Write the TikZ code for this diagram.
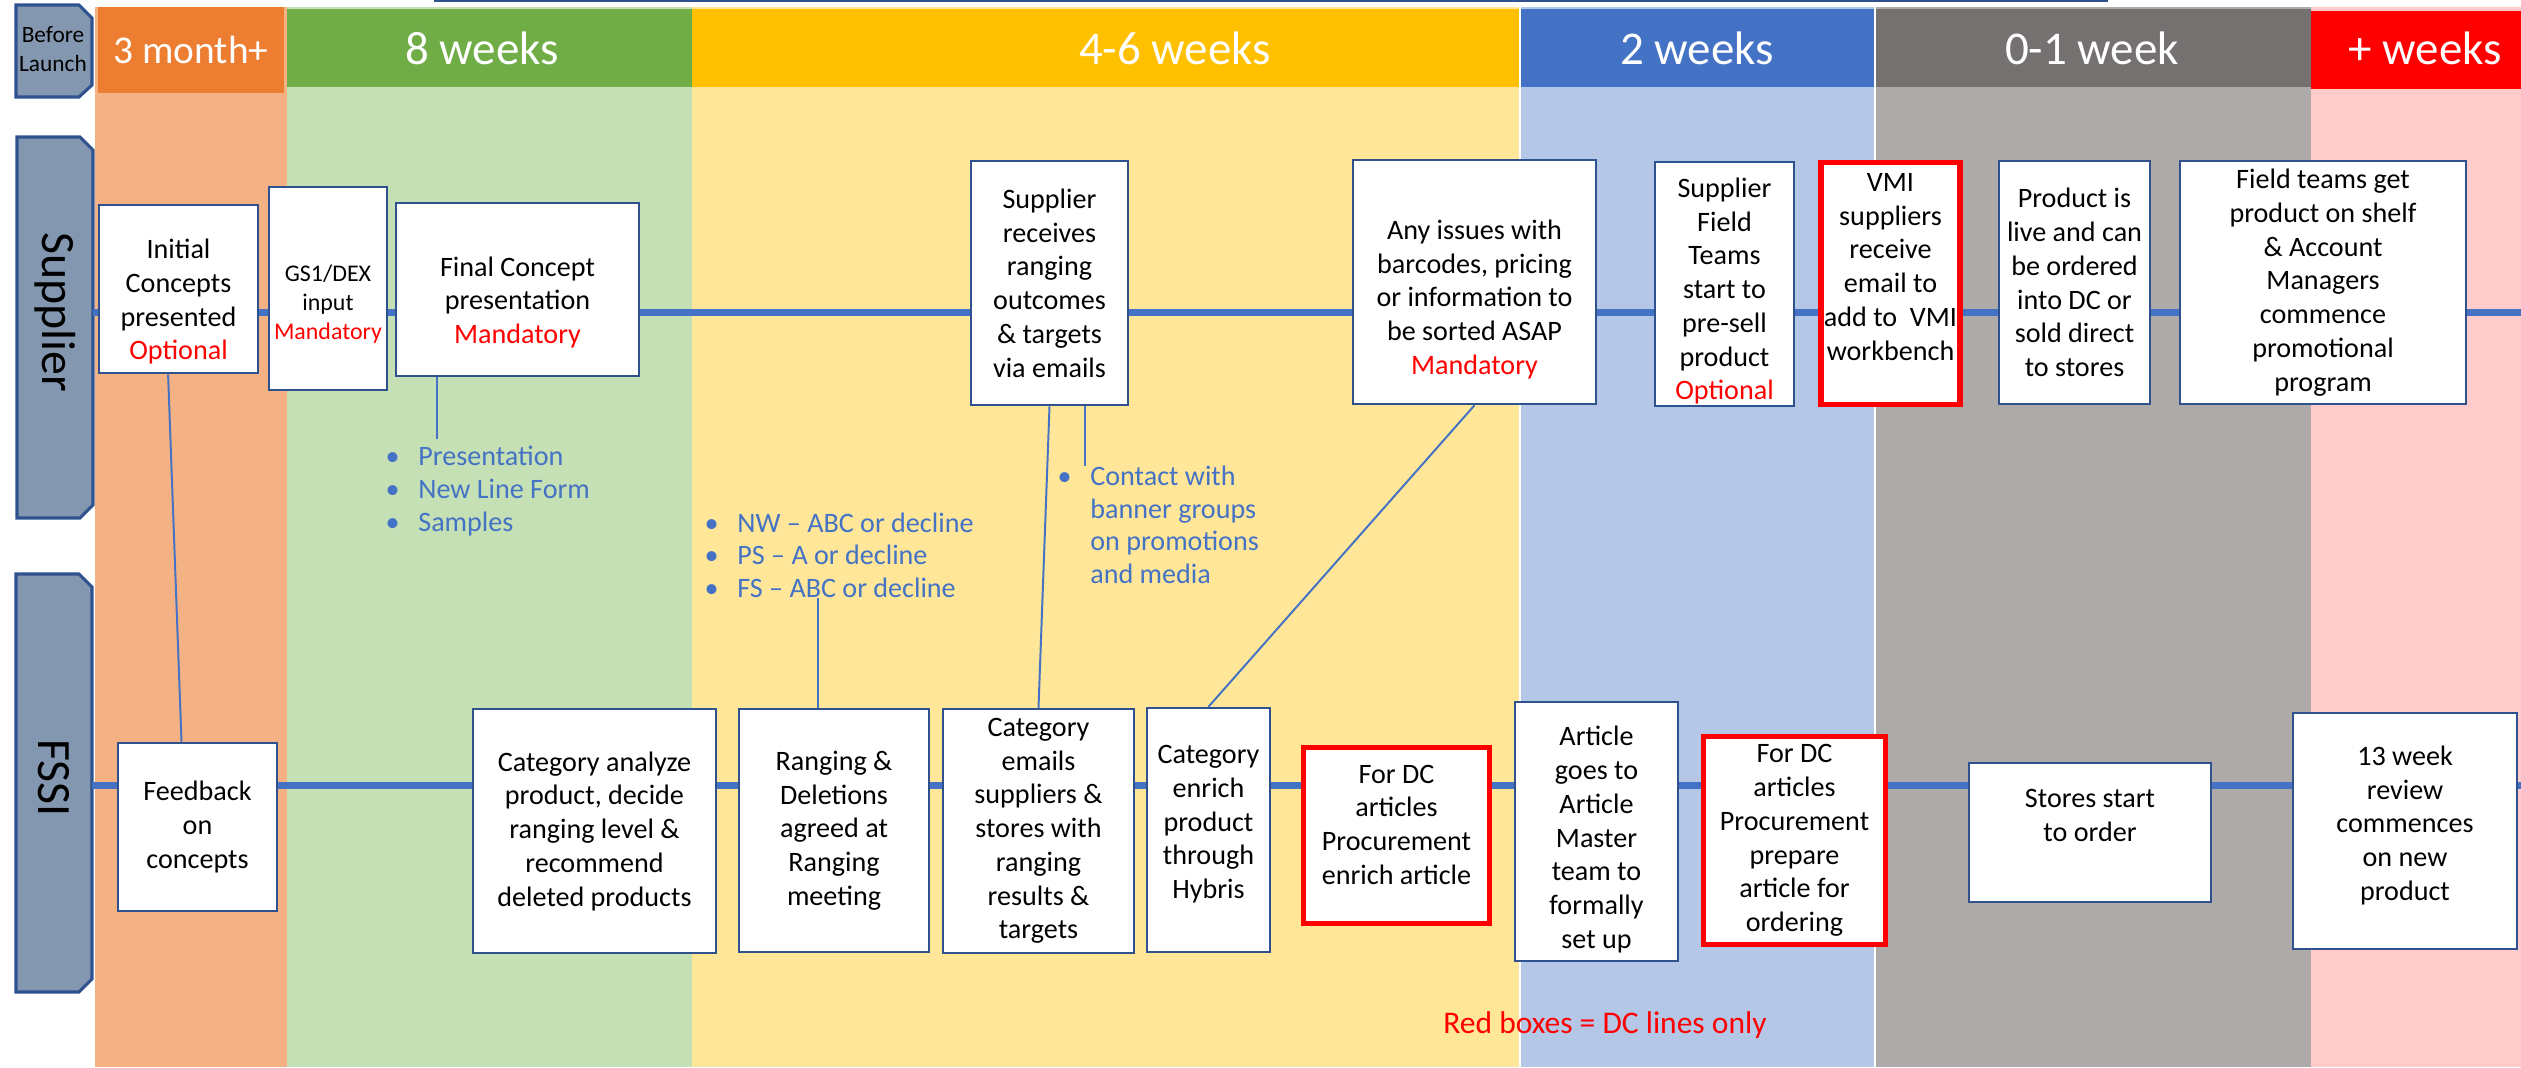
\documentclass[tikz,border=0pt]{standalone}
\usepackage{fontspec}
\setmainfont{Carlito}
\definecolor{hdorange}{HTML}{ED7D31}
\definecolor{bgorange}{HTML}{F4B183}
\definecolor{hdgreen}{HTML}{70AD47}
\definecolor{bggreen}{HTML}{C5E0B4}
\definecolor{hdyellow}{HTML}{FFC000}
\definecolor{bgyellow}{HTML}{FFE699}
\definecolor{hdblue}{HTML}{4472C4}
\definecolor{bgblue}{HTML}{B4C7E7}
\definecolor{hdgrey}{HTML}{767171}
\definecolor{bggrey}{HTML}{AEAAAA}
\definecolor{hdred}{HTML}{FF0000}
\definecolor{bgred}{HTML}{FFCBCB}
\definecolor{tabfill}{HTML}{8497B0}
\definecolor{tabline}{HTML}{2F528F}
\definecolor{lane}{HTML}{4472C4}
\newcommand{\redword}[1]{\textcolor{red}{#1}}
\newcommand{\bulitem}{\makebox[0.41cm][l]{\textbullet}}
\newcommand{\bulindent}{\hspace*{0.41cm}}
% empty first or last line, to move a box text down or up
\newcommand{\padabove}[1]{\mbox{}\\[#1]}
\newcommand{\padbelow}[1]{\\[#1]\mbox{}}

\begin{document}
\begin{tikzpicture}[x=0.0125cm, y=-0.0125cm,
    box/.style={draw=tabline, line width=0.9pt, fill=white, align=center, inner sep=1pt, font=\fontsize{10}{12}\selectfont},
    redbox/.style={box, draw=red, line width=1.9pt},
    boxwh/.style 2 args={minimum width=#1*0.0125cm, minimum height=#2*0.0125cm},
    tab/.style={fill=tabfill, draw=tabline, line width=1.1pt},
    tabtext/.style={rotate=-90, font=\fontsize{17}{20}\selectfont},
    header/.style={text=white, font=\fontsize{16.7}{20}\selectfont},
    lanebar/.style={draw=lane, line width=2.5pt},
    conn/.style={draw=lane, line width=0.7pt},
    notes/.style={text=lane, align=left, inner sep=0pt, anchor=west, font=\fontsize{10}{11.6}\selectfont}]
  \useasboundingbox (0,0) rectangle (2521,1067);
  \fill[white] (0,0) rectangle (2521,1067);

  % Columns
  \fill[bgorange] (95,7) rectangle (287,1067);
  \fill[bggreen] (287,7) rectangle (692,1067);
  \fill[bgyellow] (692,7) rectangle (1519,1067);
  \fill[bgblue] (1521,7) rectangle (1874,1067);
  \fill[bggrey] (1876,7) rectangle (2311,1067);
  \fill[bgred] (2311,7) rectangle (2521,1067);
  \draw[tabline, line width=0.8pt] (434,1) -- (2108,1);

  % Headers
  \fill[hdorange] (98,7) rectangle (284,93);
  \fill[hdgreen] (287,9) rectangle (692,87);
  \fill[hdyellow] (692,9) rectangle (1519,87);
  \fill[hdblue] (1521,9) rectangle (1874,87);
  \fill[hdgrey] (1876,9) rectangle (2311,87);
  \fill[hdred] (2311,11) rectangle (2521,89);
  \node[header, font=\fontsize{14}{17}\selectfont] (h1) at (191,50) {3 month+};
  \node[header] (h2) at (482,48) {8 weeks};
  \node[header] (h3) at (1175,48) {4-6 weeks};
  \node[header] (h4) at (1697,48) {2 weeks};
  \node[header] (h5) at (2092,48) {0-1 week};
  \node[header] (h6) at (2425,48) {+ weeks};

  % Lane tabs
  \draw[tab] (16,5) -- (79,5) -- (92,18) -- (92,85) -- (79,97) -- (16,97) -- cycle;
  \node[align=center, font=\fontsize{8.3}{10.6}\selectfont] (before) at (53,49) {Before\\Launch};
  \draw[tab] (17,137) -- (80,137) -- (93,150) -- (93,505) -- (80,518) -- (17,518) -- cycle;
  \node[tabtext] (supplier) at (55,312) {Supplier};
  \draw[tab] (16,574) -- (79,574) -- (92,587) -- (92,979) -- (79,992) -- (16,992) -- cycle;
  \node[tabtext] (fssi) at (54,778) {FSSI};

  % Lane lines
  \coordinate (supL) at (93,312);
  \coordinate (supR) at (2521,312);
  \coordinate (fssiL) at (92,785);
  \coordinate (fssiR) at (2521,785);
  \draw[lanebar] (supL) -- (supR);
  \draw[lanebar] (fssiL) -- (fssiR);

  % Supplier steps
  \node[box, boxwh={159}{168}] (init) at (178.5,289) {\padabove{4pt}Initial\\Concepts\\presented\\\redword{Optional}};
  \node[box, boxwh={118}{203}, font=\fontsize{8.5}{10.3}\selectfont] (gs1) at (328,288.5) {\padabove{7pt}GS1/DEX\\input\\\redword{Mandatory}};
  \node[box, boxwh={243}{173}] (final) at (517.5,289.5) {\padabove{4pt}Final Concept\\presentation\\\redword{Mandatory}};
  \node[box, boxwh={157}{244}] (recv) at (1049.5,283) {Supplier\\receives\\ranging\\outcomes\\\& targets\\via emails};
  \node[box, boxwh={243}{244}] (issues) at (1474.5,282) {\padabove{7.2pt}Any issues with\\barcodes, pricing\\or information to\\be sorted ASAP\\\redword{Mandatory}};
  \node[box, boxwh={139}{244}, inner sep=0pt] (sft) at (1724.5,284) {\padabove{0pt}Supplier\\Field\\Teams\\start to\\pre-sell\\product\\\redword{Optional}};
  \node[redbox, boxwh={136}{242}] (vmi) at (1890.5,283.5) {VMI\\suppliers\\receive\\email to\\add to\ \ VMI\\workbench\\\mbox{}};
  \node[box, boxwh={151}{243}] (live) at (2074.5,282.5) {Product is\\live and can\\be ordered\\into DC or\\sold direct\\to stores};
  \node[box, boxwh={286}{243}] (field) at (2323,282.5) {Field teams get\\product on shelf\\\& Account\\Managers\\commence\\promotional\\program};

  % FSSI steps
  \node[box, boxwh={159}{168}] (feed) at (197.5,827) {Feedback\\on\\concepts};
  \node[box, boxwh={243}{244}] (canal) at (594.5,831) {Category analyze\\product, decide\\ranging level \&\\recommend\\deleted products};
  \node[box, boxwh={190}{243}] (rang) at (834,830.5) {Ranging \&\\Deletions\\agreed at\\Ranging\\meeting};
  \node[box, boxwh={191}{244}] (cemail) at (1038.5,831) {Category\\emails\\suppliers \&\\stores with\\ranging\\results \&\\targets};
  \node[box, boxwh={123}{244}] (cenrich) at (1208.5,830) {Category\\enrich\\product\\through\\Hybris\padbelow{-6.3pt}};
  \node[redbox, boxwh={186}{176}] (dcenrich) at (1396.5,835.5) {For DC\\articles\\Procurement\\enrich article\padbelow{-4.2pt}};
  \node[box, boxwh={163}{259}] (artm) at (1596.5,831.5) {\padabove{0.7pt}Article\\goes to\\Article\\Master\\team to\\formally\\set up};
  \node[redbox, boxwh={182}{208}] (dcprep) at (1794.5,840.5) {For DC\\articles\\Procurement\\prepare\\article for\\ordering};
  \node[box, boxwh={242}{139}] (stores) at (2090,832.5) {Stores start\\to order\\\mbox{}};
  \node[box, boxwh={224}{236}] (review) at (2405,831) {13 week\\review\\commences\\on new\\product\padbelow{-6.3pt}};

  % Notes
  \node[notes] (presnotes) at (385,491) {\bulitem Presentation\\\bulitem New Line Form\\\bulitem Samples};
  \node[notes] (rangnotes) at (704,555) {\bulitem NW – ABC or decline\\\bulitem PS – A or decline\\\bulitem FS – ABC or decline};
  \node[notes] (contnotes) at (1057,525) {\bulitem Contact with\\\bulindent banner groups\\\bulindent on promotions\\\bulindent and media};
  \node[text=red, font=\fontsize{11.2}{13}\selectfont] (redkey) at (1605,1025) {Red boxes = DC lines only};

  % Links
  \draw[conn] ([xshift=-0.13cm]init.south) -- ([xshift=-0.2cm]feed.north);
  \draw[conn] ([xshift=-1cm]final.south) -- ([xshift=-1cm, yshift=0.08cm]final.south |- presnotes.north);
  \draw[conn] (recv.south) -- (cemail.north);
  \draw[conn] ([xshift=0.44cm]recv.south) -- ([xshift=0.44cm]recv.south |- contnotes.north);
  \draw[conn] ([xshift=-0.2cm]rang.north |- rangnotes.south) -- ([xshift=-0.2cm]rang.north);
  \draw[conn] (issues.south) -- (cenrich.north);
\end{tikzpicture}
\end{document}
